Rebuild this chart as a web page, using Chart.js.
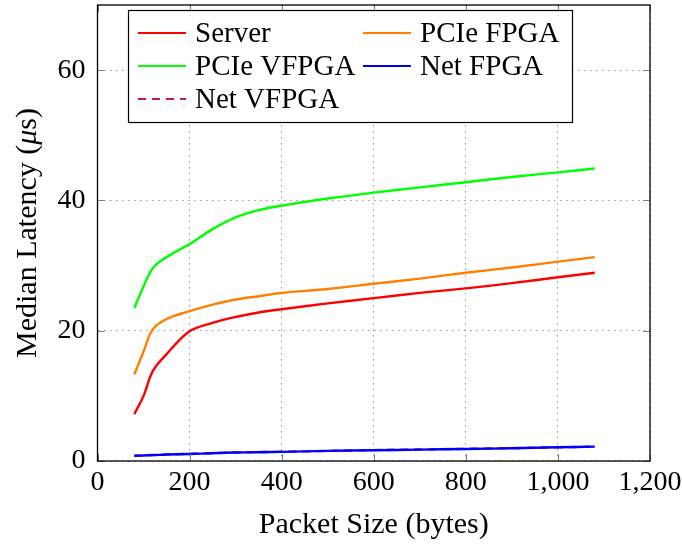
<!DOCTYPE html>
<html>
<head>
<meta charset="utf-8">
<title>Median latency vs packet size</title>
<script src="https://cdn.jsdelivr.net/npm/chart.js@4.4.0/dist/chart.umd.min.js"></script>
<style>
  html, body { margin: 0; padding: 0; background: #fff; }
  #wrap { width: 682px; height: 547px; position: relative; }
</style>
</head>
<body>
<div id="wrap"><canvas id="latency-chart"></canvas></div>
<script>
// Packet sizes (bytes) sampled for every configuration
const packetSizes = [80, 100, 120, 150, 200, 250, 300, 350, 400, 500, 600, 700, 800, 900, 1000, 1080];

// Median latency in microseconds
const serverLatency    = [7.2, 10.0, 13.8, 16.4, 19.9, 21.2, 22.1, 22.8, 23.3, 24.2, 25.0, 25.8, 26.5, 27.3, 28.2, 28.9];
const pcieFpgaLatency  = [13.3, 16.8, 20.2, 21.8, 23.0, 24.0, 24.8, 25.3, 25.8, 26.4, 27.2, 28.0, 28.9, 29.7, 30.6, 31.3];
const pcieVfpgaLatency = [23.5, 26.8, 29.6, 31.3, 33.3, 35.6, 37.4, 38.5, 39.2, 40.3, 41.2, 42.0, 42.8, 43.6, 44.3, 44.9];
const netFpgaLatency   = [0.8, 0.85, 0.9, 1.0, 1.07, 1.2, 1.3, 1.35, 1.4, 1.55, 1.65, 1.75, 1.85, 1.95, 2.1, 2.2];
const netVfpgaLatency  = [0.8, 0.85, 0.92, 1.0, 1.1, 1.2, 1.3, 1.37, 1.42, 1.55, 1.67, 1.77, 1.87, 1.97, 2.1, 2.2];

const xTicks = [0, 200, 400, 600, 800, 1000, 1200];
const yTicks = [0, 20, 40, 60];

const FONT = '"Liberation Serif", "DejaVu Serif", serif';
const TICK_SIZE = 28;
const TITLE_SIZE = 30;
const LEGEND_SIZE = 29;

const series = [
  { label: 'Server',     data: serverLatency,    color: '#ff0000', dash: [] },
  { label: 'PCIe FPGA',  data: pcieFpgaLatency,  color: '#ff8000', dash: [] },
  { label: 'PCIe VFPGA', data: pcieVfpgaLatency, color: '#00ff00', dash: [] },
  { label: 'Net FPGA',   data: netFpgaLatency,   color: '#0000ff', dash: [] },
  { label: 'Net VFPGA',  data: netVfpgaLatency,  color: '#c2185a', dash: [8, 6] }
];

// Black frame around the plot plus inward tick marks
const framePlugin = {
  id: 'frame',
  afterDatasetsDraw(chart) {
    const { ctx, chartArea: a, scales } = chart;
    ctx.save();
    ctx.strokeStyle = '#7f7f7f';
    ctx.lineWidth = 1;
    xTicks.forEach(v => {
      const x = Math.round(scales.x.getPixelForValue(v)) + 0.5;
      ctx.beginPath();
      ctx.moveTo(x, a.bottom); ctx.lineTo(x, a.bottom - 7);
      ctx.moveTo(x, a.top); ctx.lineTo(x, a.top + 7);
      ctx.stroke();
    });
    yTicks.forEach(v => {
      const y = Math.round(scales.y.getPixelForValue(v)) + 0.5;
      ctx.beginPath();
      ctx.moveTo(a.left, y); ctx.lineTo(a.left + 7, y);
      ctx.moveTo(a.right, y); ctx.lineTo(a.right - 7, y);
      ctx.stroke();
    });
    ctx.strokeStyle = '#000';
    ctx.lineWidth = 1.3;
    ctx.strokeRect(a.left, a.top, a.right - a.left, a.bottom - a.top);
    ctx.restore();
  }
};

// Rotated y title with an italic mu
const yTitlePlugin = {
  id: 'yTitle',
  afterDraw(chart) {
    const { ctx, chartArea: a } = chart;
    const parts = [
      { text: 'Median Latency (', font: TITLE_SIZE + 'px ' + FONT },
      { text: 'μ', font: 'italic ' + TITLE_SIZE + 'px ' + FONT },
      { text: 's)', font: TITLE_SIZE + 'px ' + FONT }
    ];
    ctx.save();
    let total = 0;
    parts.forEach(p => { ctx.font = p.font; p.w = ctx.measureText(p.text).width; total += p.w; });
    ctx.translate(28, (a.top + a.bottom) / 2);
    ctx.rotate(-Math.PI / 2);
    ctx.fillStyle = '#000';
    ctx.textBaseline = 'middle';
    let x = -total / 2;
    parts.forEach(p => { ctx.font = p.font; ctx.fillText(p.text, x, 0); x += p.w; });
    ctx.restore();
  }
};

// Two-column boxed legend in the upper left of the plot
const boxLegendPlugin = {
  id: 'boxLegend',
  afterDraw(chart) {
    const { ctx } = chart;
    const box = { x: 128.5, y: 10.5, w: 444, h: 112 };
    const cols = [138, 363];
    const rows = [33, 66, 99];
    ctx.save();
    ctx.fillStyle = '#fff';
    ctx.fillRect(box.x, box.y, box.w, box.h);
    ctx.strokeStyle = '#000';
    ctx.lineWidth = 1.2;
    ctx.strokeRect(box.x, box.y, box.w, box.h);
    ctx.font = LEGEND_SIZE + 'px ' + FONT;
    ctx.textBaseline = 'middle';
    chart.data.datasets.forEach((ds, i) => {
      const cx = cols[i % 2];
      const cy = rows[Math.floor(i / 2)];
      ctx.strokeStyle = ds.borderColor;
      ctx.lineWidth = 2.2;
      ctx.setLineDash(ds.borderDash || []);
      ctx.beginPath();
      ctx.moveTo(cx, cy);
      ctx.lineTo(cx + 48, cy);
      ctx.stroke();
      ctx.setLineDash([]);
      ctx.fillStyle = '#000';
      ctx.fillText(ds.label, cx + 57, cy + 1);
    });
    ctx.restore();
  }
};

const ctx = document.getElementById('latency-chart').getContext('2d');

new Chart(ctx, {
  type: 'line',
  data: {
    datasets: series.map(s => ({
      label: s.label,
      data: packetSizes.map((x, i) => ({ x: x, y: s.data[i] })),
      borderColor: s.color,
      backgroundColor: s.color,
      borderWidth: 2.4,
      borderDash: s.dash,
      pointRadius: 0,
      tension: 0.35,
      fill: false
    }))
  },
  options: {
    responsive: true,
    maintainAspectRatio: false,
    animation: false,
    layout: { padding: { left: 0, right: 32, top: 5, bottom: 4 } },
    plugins: {
      legend: { display: false },
      tooltip: { enabled: false }
    },
    scales: {
      x: {
        type: 'linear',
        min: 0,
        max: 1200,
        afterFit: s => {
          s.height = 82;
          s.paddingLeft = 0;
          s.paddingRight = 0;
        },
        afterBuildTicks: s => { s.ticks = xTicks.map(v => ({ value: v })); },
        grid: { color: '#9a9a9a', lineWidth: 1, drawTicks: false },
        border: { display: false, dash: [1.5, 4.5] },
        ticks: {
          color: '#000',
          padding: 5,
          maxRotation: 0,
          font: { family: FONT, size: TICK_SIZE },
          callback: v => v.toLocaleString('en-US')
        },
        title: {
          display: true,
          text: 'Packet Size (bytes)',
          color: '#000',
          padding: { top: 2, bottom: 0 },
          font: { family: FONT, size: TITLE_SIZE }
        }
      },
      y: {
        type: 'linear',
        min: 0,
        max: 70,
        afterFit: s => {
          s.width = 97.5;
          s.paddingTop = 0;
          s.paddingBottom = 0;
        },
        afterBuildTicks: s => { s.ticks = yTicks.map(v => ({ value: v })); },
        grid: { color: '#9a9a9a', lineWidth: 1, drawTicks: false },
        border: { display: false, dash: [1.5, 4.5] },
        ticks: {
          color: '#000',
          padding: 12,
          font: { family: FONT, size: TICK_SIZE }
        }
      }
    }
  },
  plugins: [framePlugin, yTitlePlugin, boxLegendPlugin]
});
</script>
</body>
</html>
